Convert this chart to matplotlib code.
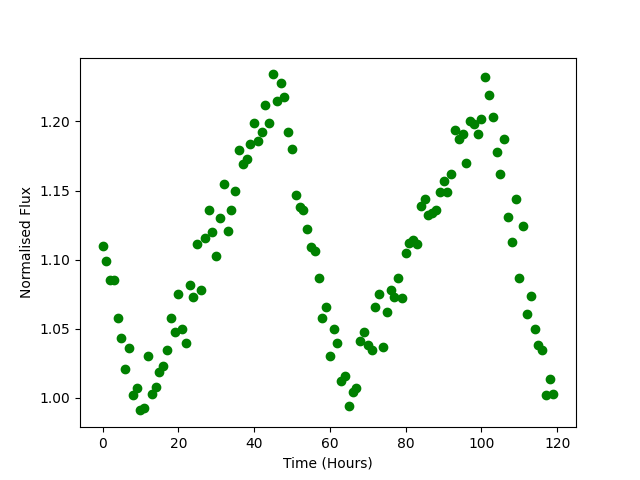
import matplotlib
matplotlib.use("Agg")
import matplotlib.pyplot as plt
import numpy as np

hours = list(range(120))
flux = [
    1.110, 1.099, 1.085, 1.085, 1.058, 1.043, 1.021, 1.036, 1.002, 1.007,
    0.991, 0.993, 1.030, 1.003, 1.008, 1.019, 1.023, 1.035, 1.058, 1.048,
    1.075, 1.050, 1.040, 1.082, 1.073, 1.111, 1.078, 1.116, 1.136, 1.120,
    1.103, 1.130, 1.155, 1.121, 1.136, 1.150, 1.179, 1.169, 1.173, 1.184,
    1.199, 1.186, 1.192, 1.212, 1.199, 1.234, 1.215, 1.228, 1.218, 1.192,
    1.180, 1.147, 1.138, 1.136, 1.122, 1.109, 1.106, 1.087, 1.058, 1.066,
    1.030, 1.050, 1.040, 1.012, 1.016, 0.994, 1.004, 1.007, 1.041, 1.048,
    1.038, 1.035, 1.066, 1.075, 1.037, 1.062, 1.078, 1.073, 1.087, 1.072,
    1.105, 1.112, 1.114, 1.111, 1.139, 1.144, 1.132, 1.134, 1.136, 1.149,
    1.157, 1.149, 1.162, 1.194, 1.187, 1.191, 1.170, 1.200, 1.198, 1.191,
    1.202, 1.232, 1.219, 1.203, 1.178, 1.162, 1.187, 1.131, 1.113, 1.144,
    1.087, 1.124, 1.061, 1.074, 1.050, 1.038, 1.035, 1.002, 1.014, 1.003,
]

fig, ax = plt.subplots(figsize=(6.4, 4.8), dpi=100)
ax.plot(hours, flux, 'o', color='green')
ax.set_xlabel("Time (Hours)")
ax.set_ylabel("Normalised Flux")
fig.savefig("out.png")
